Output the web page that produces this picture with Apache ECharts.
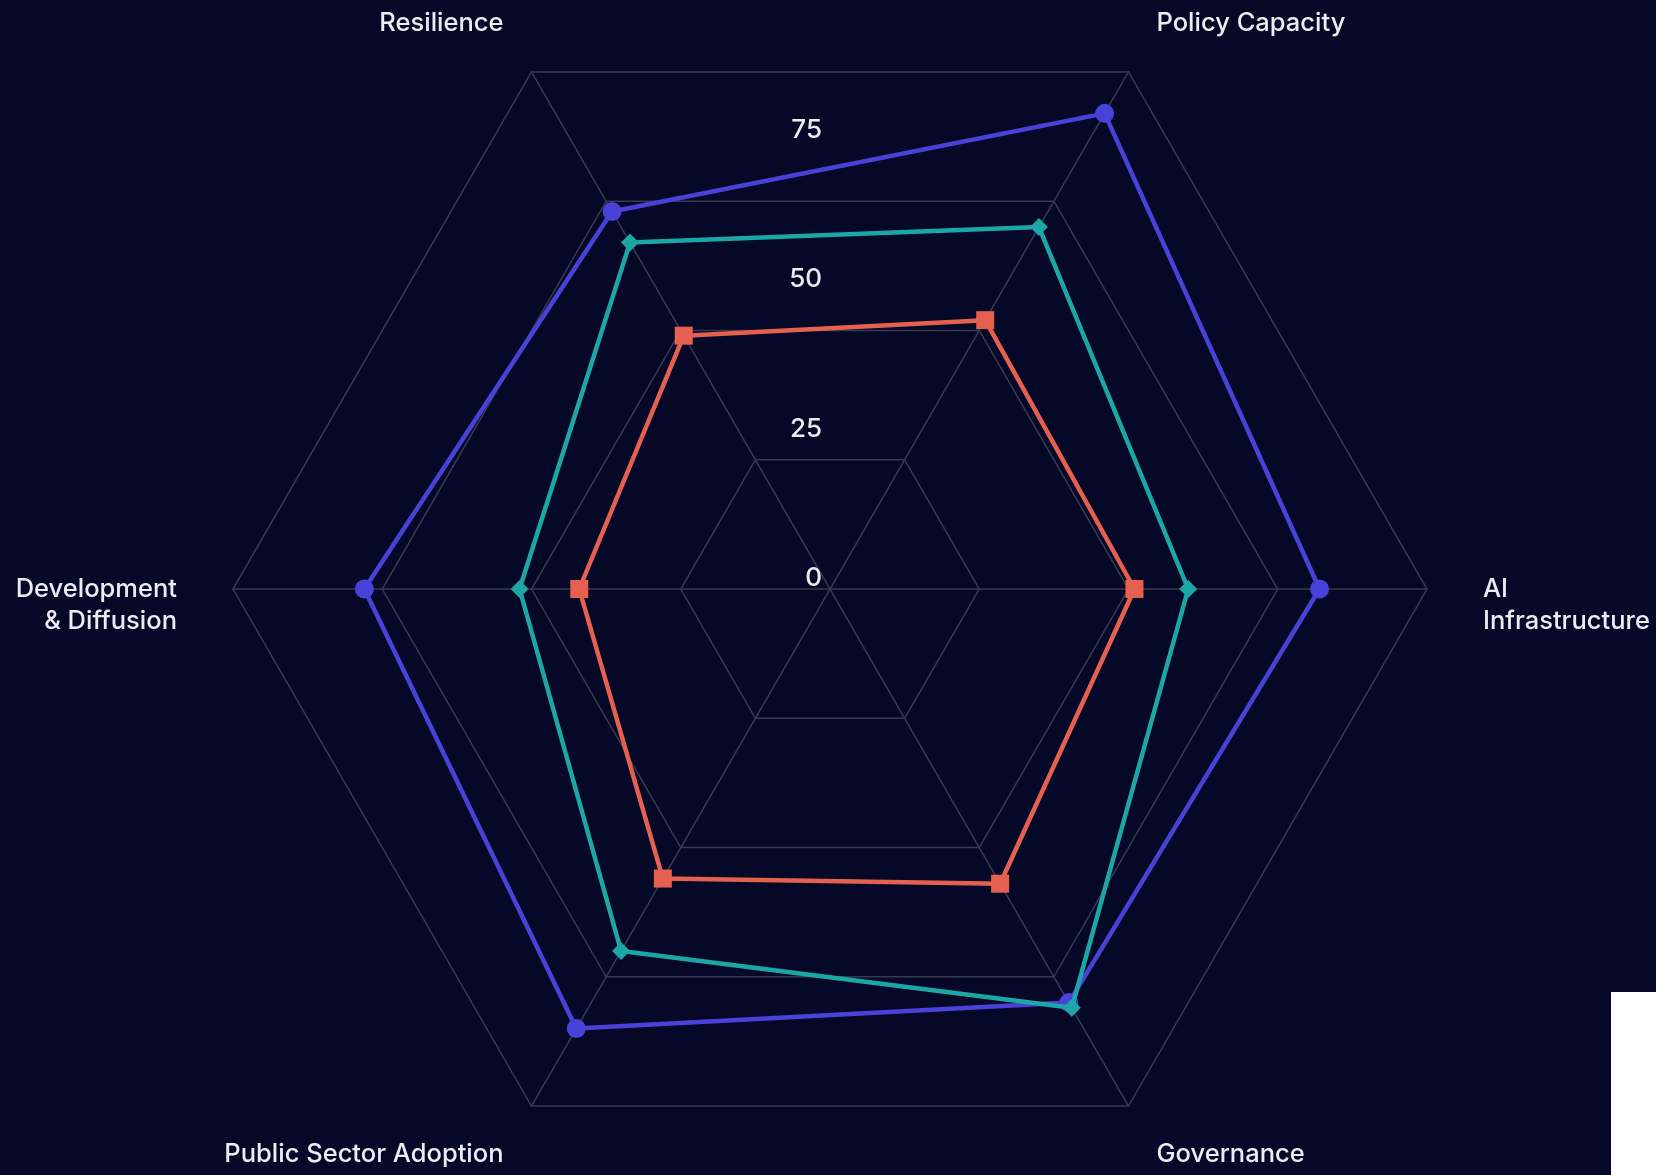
<!DOCTYPE html>
<html>
<head>
<meta charset="utf-8">
<style>
  html, body { margin: 0; padding: 0; background: #050826; }
  #chart { width: 1656px; height: 1175px; }
</style>
<script src="https://cdn.jsdelivr.net/npm/echarts@6/dist/echarts.min.js"></script>
</head>
<body>
<div id="chart"></div>
<script>
// Indicators (counter-clockwise from the right)
const categories = [
  'AI\nInfrastructure',
  'Policy Capacity',
  'Resilience',
  'Development\n& Diffusion',
  'Public Sector Adoption',
  'Governance'
];
const tickValues = [0, 25, 50, 75, 100];

const seriesBlue  = [82, 92, 73, 78, 85, 80];
const seriesTeal  = [60, 70, 67, 52, 70, 81];
const seriesRed   = [51, 52, 49, 42, 56, 57];

const CX = 830, CY = 589, R = 597;
const gridColor = '#393a52';
const textColor = '#ececf2';
const font = 'Inter, "Noto Sans", sans-serif';

const chart = echarts.init(document.getElementById('chart'), null, { renderer: 'canvas' });

chart.setOption({
  backgroundColor: '#050826',
  animation: false,
  radar: {
    center: [CX, CY],
    radius: R,
    startAngle: 0,
    shape: 'polygon',
    splitNumber: tickValues.length - 1,
    nameGap: 56,
    indicator: categories.map(n => ({ name: n, min: tickValues[0], max: tickValues[tickValues.length - 1] })),
    axisName: {
      color: textColor,
      fontSize: 25.5,
      fontWeight: 500,
      fontFamily: font,
      lineHeight: 32,
      padding: [8, 0, 0, 0],
      formatter: (name) => name.indexOf('\n') >= 0 ? '\n' + name : name
    },
    splitLine: { lineStyle: { color: gridColor, width: 1.5 } },
    splitArea: { show: false },
    axisLine: { lineStyle: { color: gridColor, width: 1.5 } },
    axisTick: { show: false },
    axisLabel: { show: false }
  },
  polar: { center: [CX, CY], radius: R },
  angleAxis: { show: false, min: 0, max: 360, startAngle: 90 },
  radiusAxis: {
    type: 'value',
    min: tickValues[0],
    max: tickValues[tickValues.length - 1],
    interval: tickValues[1] - tickValues[0],
    axisLine: { show: false },
    axisTick: { show: false },
    splitLine: { show: false },
    axisLabel: {
      showMaxLabel: false,
      color: textColor,
      fontSize: 26,
      fontWeight: 500,
      fontFamily: font,
      lineHeight: 22,
      align: 'right',
      verticalAlign: 'bottom',
      margin: 8
    }
  },
  series: [
    {
      name: 'Series 1', type: 'radar', z: 2,
      symbol: 'circle', symbolSize: 19,
      lineStyle: { color: '#4842d8', width: 4.5 },
      itemStyle: { color: '#4842d8' },
      data: [{ value: seriesBlue, name: 'Series 1' }]
    },
    {
      name: 'Series 2', type: 'radar', z: 3,
      symbol: 'diamond', symbolSize: 18,
      lineStyle: { color: '#1ca7a6', width: 4.5 },
      itemStyle: { color: '#1ca7a6' },
      data: [{ value: seriesTeal, name: 'Series 2' }]
    },
    {
      name: 'Series 3', type: 'radar', z: 4,
      symbol: 'rect', symbolSize: 18,
      lineStyle: { color: '#e6604f', width: 4.5 },
      itemStyle: { color: '#e6604f' },
      data: [{ value: seriesRed, name: 'Series 3' }]
    }
  ],
  graphic: [
    { type: 'rect', right: 0, bottom: 0, shape: { width: 45, height: 183 }, style: { fill: '#ffffff' } }
  ]
});
</script>
</body>
</html>
